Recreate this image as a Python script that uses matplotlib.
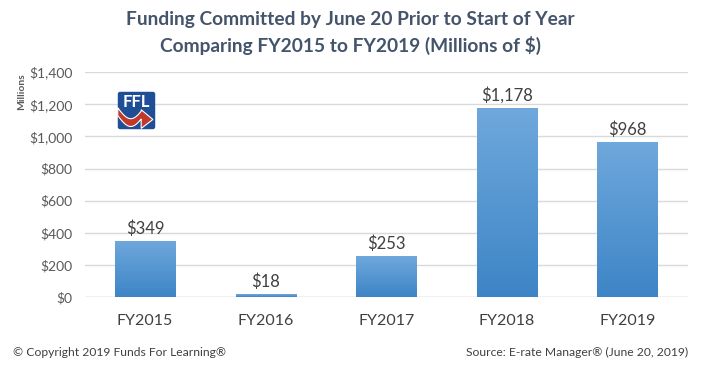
import matplotlib
matplotlib.use("Agg")
import matplotlib.pyplot as plt
import numpy as np
from matplotlib.patches import FancyBboxPatch, Polygon
from matplotlib.colors import LinearSegmentedColormap

categories = ["FY2015", "FY2016", "FY2017", "FY2018", "FY2019"]
values = [349, 18, 253, 1178, 968]
bar_labels = ["$349", "$18", "$253", "$1,178", "$968"]
yticks = [0, 200, 400, 600, 800, 1000, 1200, 1400]
ytick_labels = ["$0", "$200", "$400", "$600", "$800", "$1,000", "$1,200", "$1,400"]

plt.rcParams['font.family'] = ['Lato', 'DejaVu Sans']

fig = plt.figure(figsize=(7.01, 3.70), dpi=100)
ax = fig.add_axes([0.121, 0.197, 0.860, 0.608])

x = np.arange(len(categories))
width = 0.5
grad = np.linspace(0, 1, 256).reshape(-1, 1)
cmap = LinearSegmentedColormap.from_list("g", ["#3d85c6", "#6fa8dc"])
bars = ax.bar(x, values, width=width, color="none", zorder=2)
for b in bars:
    x0, y0 = b.get_x(), b.get_y()
    w, h = b.get_width(), b.get_height()
    im = ax.imshow(grad, extent=[x0, x0 + w, y0, y0 + h], origin="lower",
                   aspect="auto", cmap=cmap, zorder=2)
    im.set_clip_path(b)

for xi, v, lab in zip(x, values, bar_labels):
    ax.text(xi, v + 25, lab, ha="center", va="bottom", fontsize=12, color="#404040")

ax.set_xlim(-0.5, len(categories) - 0.5)
ax.set_ylim(0, 1400)
ax.set_yticks(yticks)
ax.set_yticklabels(ytick_labels, fontsize=10, color="#595959")
ax.set_xticks(x)
ax.set_xticklabels(categories, fontsize=11.5, color="#404040")
ax.tick_params(length=0)
ax.tick_params(axis="x", pad=12)
ax.tick_params(axis="y", pad=9)
ax.grid(axis="y", color="#d9d9d9", linewidth=1, zorder=0)
ax.set_axisbelow(True)
for s in ax.spines.values():
    s.set_visible(False)
ax.axhline(0, color="#d9d9d9", linewidth=1, zorder=1)

fig.text(0.5, 0.948, "Funding Committed by June 20 Prior to Start of Year",
         ha="center", va="center", fontsize=13.8, fontweight="bold", color="#44546a")
fig.text(0.5, 0.876, "Comparing FY2015 to FY2019 (Millions of $)",
         ha="center", va="center", fontsize=13.8, fontweight="bold", color="#44546a")
fig.text(0.031, 0.752, "Millions", rotation=90, ha="center", va="center",
         fontsize=7.5, fontweight="bold", color="#595959")

fig.text(0.018, 0.047, "© Copyright 2019 Funds For Learning®", ha="left", va="center",
         fontsize=8.7, color="#404040")
fig.text(0.982, 0.047, "Source: E-rate Manager® (June 20, 2019)", ha="right", va="center",
         fontsize=8.7, color="#404040")

# FFL logo
lax = fig.add_axes([117/701, 1 - 130/370, 39/701, 39/370])
lax.set_xlim(0, 1); lax.set_ylim(0, 1); lax.axis("off")
lax.add_patch(FancyBboxPatch((0.02, 0.02), 0.96, 0.96, boxstyle="round,pad=0,rounding_size=0.06",
                             facecolor="#1f4e96", edgecolor="none"))
lax.text(0.5, 0.73, "FFL", ha="center", va="center", fontsize=12, fontweight="bold", color="white")
t = np.linspace(0, 1, 30)
upper_x = 0.02 + 0.6 * t
upper_y = 0.52 - 0.28 * np.sin(np.pi * t * 0.9) + 0.05
lower_y = upper_y - 0.2
pts = list(zip(upper_x, upper_y)) + [(0.62, 0.52), (0.92, 0.27), (0.62, 0.04)] + list(zip(upper_x[::-1], lower_y[::-1]))
lax.add_patch(Polygon(pts, closed=True, facecolor="#c0392b", edgecolor="white", linewidth=0.8))

fig.savefig("out.png", dpi=100, facecolor="white")
